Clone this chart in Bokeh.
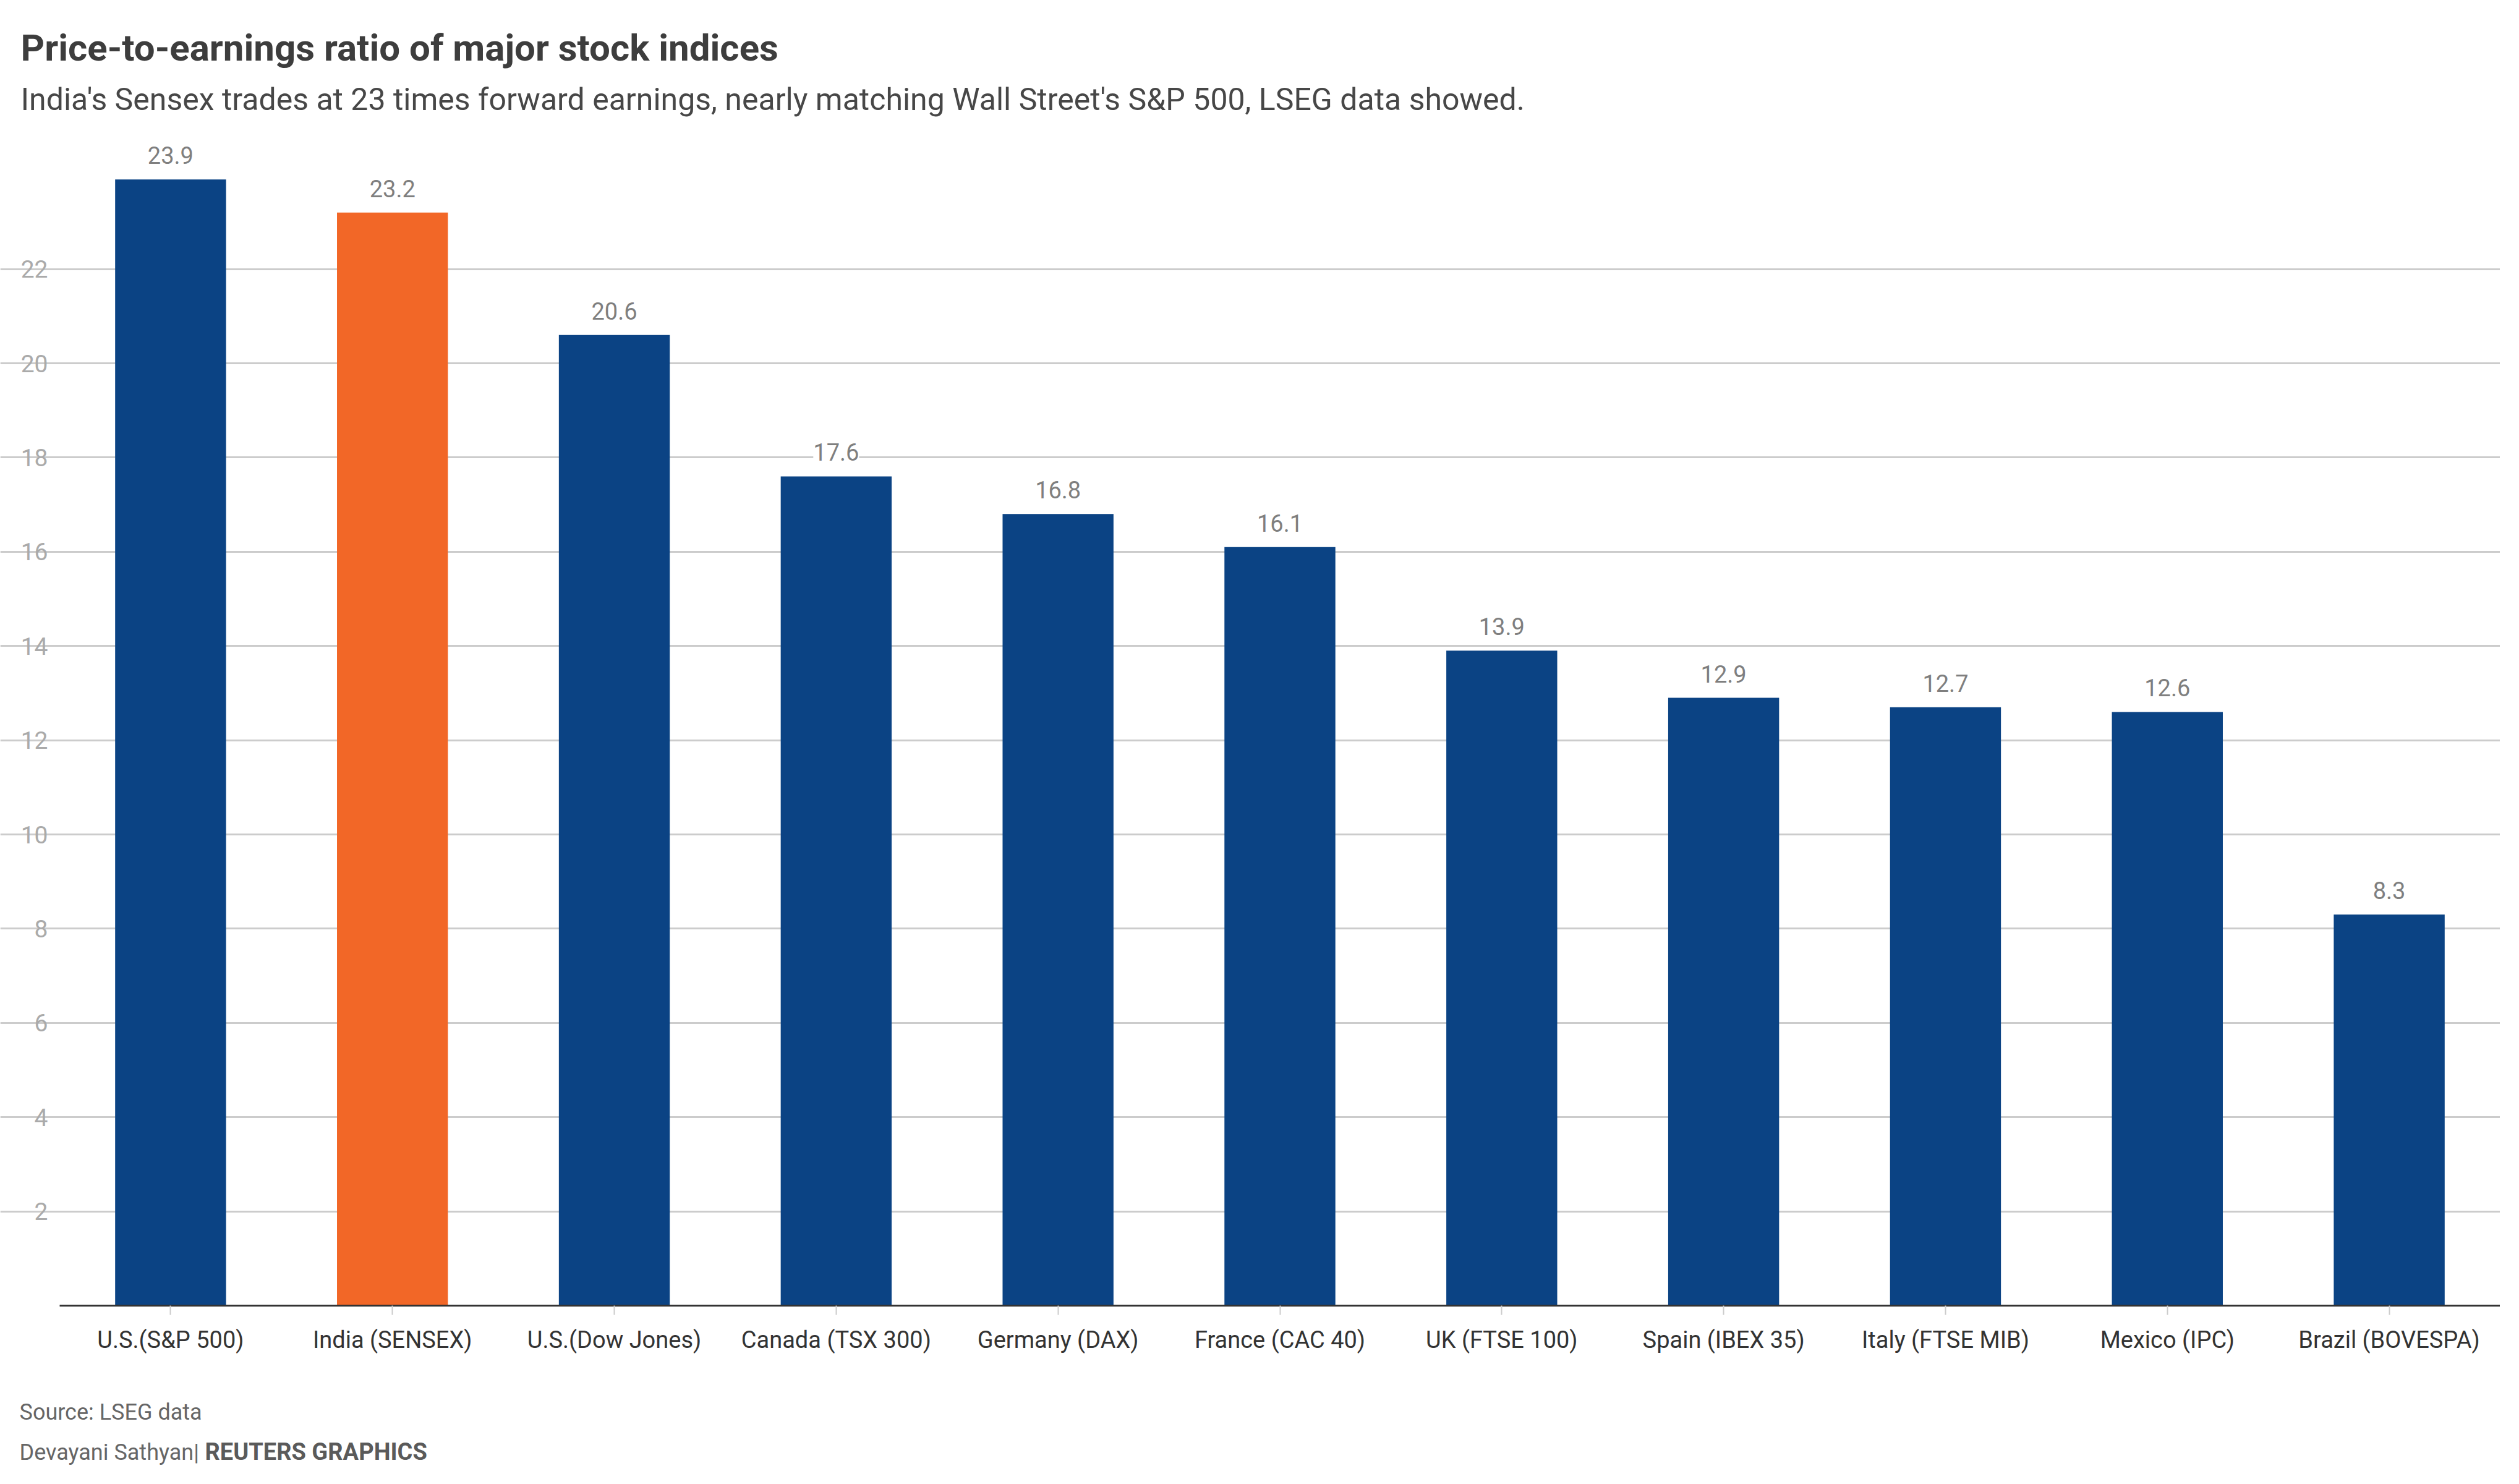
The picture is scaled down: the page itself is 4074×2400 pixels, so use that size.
from bokeh.plotting import figure
from bokeh.models import ColumnDataSource, LabelSet, Label, FixedTicker, Range1d
from bokeh.core.properties import value
from bokeh.embed import file_html
from bokeh.resources import INLINE

# ---- data ----
categories = ["U.S.(S&P 500)", "India (SENSEX)", "U.S.(Dow Jones)", "Canada (TSX 300)",
              "Germany (DAX)", "France (CAC 40)", "UK (FTSE 100)", "Spain (IBEX 35)",
              "Italy (FTSE MIB)", "Mexico (IPC)", "Brazil (BOVESPA)"]
pe_ratios = [23.9, 23.2, 20.6, 17.6, 16.8, 16.1, 13.9, 12.9, 12.7, 12.6, 8.3]
highlight = "India (SENSEX)"
y_ticks = [2, 4, 6, 8, 10, 12, 14, 16, 18, 20, 22]

title_text = "Price-to-earnings ratio of major stock indices"
subtitle_text = ("India's Sensex trades at 23 times forward earnings, nearly matching "
                 "Wall Street's S&P 500, LSEG data showed.")
source_text = "Source: LSEG data"
author_text = "Devayani Sathyan|"
brand_text = "REUTERS GRAPHICS"

BLUE = "#0b4384"
ORANGE = "#f26727"
FONT = "Roboto"

n = len(categories)
xpos = [i + 0.5 for i in range(n)]
colors = [ORANGE if c == highlight else BLUE for c in categories]
labels = [f"{v:.1f}" for v in pe_ratios]
src = ColumnDataSource(dict(x=xpos, val=pe_ratios, color=colors, label=labels))

# ---- geometry (pixels) ----
PLOT_LEFT, PLOT_RIGHT = 96, 4043      # where the category band starts / ends
W, H = PLOT_RIGHT, 2384
BASE_Y = 2111                          # baseline (y = 0), from top
PX_PER_UNIT = 76.2
px_per_cat = (PLOT_RIGHT - PLOT_LEFT) / n

x_range = Range1d(-PLOT_LEFT / px_per_cat, (W - PLOT_LEFT) / px_per_cat)
y_range = Range1d(-(H - BASE_Y) / PX_PER_UNIT, BASE_Y / PX_PER_UNIT)

p = figure(width=W, height=H, x_range=x_range, y_range=y_range,
           output_backend="svg", toolbar_location=None,
           min_border=0, min_border_left=0, min_border_right=0,
           min_border_top=0, min_border_bottom=0)
p.outline_line_color = None
p.background_fill_color = "white"
p.border_fill_color = "white"

p.vbar(x="x", top="val", width=0.5, fill_color="color", line_color=None, source=src)

# x axis (at y = 0)
xa = p.xaxis[0]
xa.fixed_location = 0
xa.bounds = (0, n)
xa.ticker = FixedTicker(ticks=xpos)
xa.major_label_overrides = {x: c for x, c in zip(xpos, categories)}
xa.axis_line_color = "#333333"
xa.axis_line_width = 3
xa.major_tick_line_color = "#cccccc"
xa.major_tick_line_width = 2
xa.major_tick_out = 15
xa.major_tick_in = 0
xa.minor_tick_line_color = None
xa.major_label_text_font = FONT
xa.major_label_text_font_size = "38px"
xa.major_label_text_color = "#333333"
xa.major_label_standoff = 18

# y axis (at x = 0)
ya = p.yaxis[0]
ya.fixed_location = 0
ya.ticker = FixedTicker(ticks=y_ticks)
ya.axis_line_color = None
ya.major_tick_line_color = None
ya.minor_tick_line_color = None
ya.major_tick_out = 0
ya.major_tick_in = 0
ya.major_label_text_font = FONT
ya.major_label_text_font_size = "39px"
ya.major_label_text_color = "#aaaaaa"
ya.major_label_standoff = 19

p.xgrid.grid_line_color = None
p.ygrid.ticker = FixedTicker(ticks=y_ticks)
p.ygrid.bounds = (0, n)
p.ygrid.grid_line_color = "#cccccc"
p.ygrid.grid_line_width = 3

vals = LabelSet(x="x", y="val", text="label", source=src, text_align="center",
                text_baseline="alphabetic", y_offset=25, text_font=value(FONT),
                text_font_size="38px", text_color="#7f7f7f",
                background_fill_color="white")
p.add_layout(vals)


def add_text(txt, x, y_from_top, size, color, style="normal"):
    p.add_layout(Label(x=x, y=H - y_from_top, x_units="screen", y_units="screen", text=txt,
                       text_font=FONT, text_font_size=size, text_color=color,
                       text_font_style=style, text_baseline="alphabetic", text_align="left"))


add_text(title_text, 33, 77, "60px", "#3d3d3d", "bold")
add_text(subtitle_text, 33, 160, "50px", "#474747")
add_text(source_text, 31, 2283, "36px", "#666666")
add_text(author_text, 31, 2348, "36px", "#666666")
add_text(brand_text, 331, 2347, "38px", "#5a5a5a", "bold")

open("out.html", "w").write(file_html(p, INLINE))
